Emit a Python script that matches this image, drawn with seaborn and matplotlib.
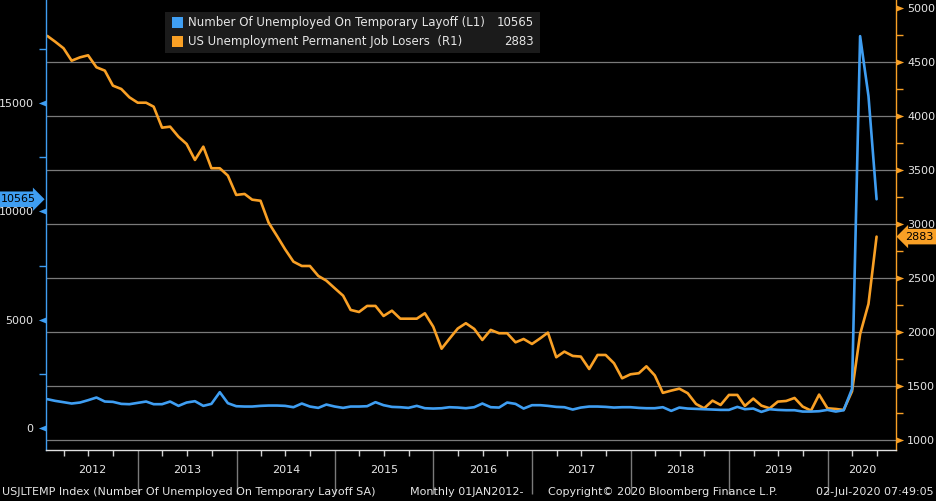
import matplotlib
matplotlib.use("Agg")
import matplotlib.pyplot as plt
import matplotlib.dates as mdates
from matplotlib.path import Path
from matplotlib.patches import Rectangle
from matplotlib.ticker import MultipleLocator, NullFormatter
import numpy as np
import pandas as pd
import seaborn as sns

# Data (thousands, monthly, Jan 2012 - Jun 2020)
months = pd.date_range("2012-01-31", periods=102, freq="ME")

temp_layoff = [
    1328, 1250, 1189, 1127, 1173, 1281, 1405, 1219, 1204, 1111, 1096, 1158,
    1219, 1096, 1096, 1219, 1019, 1173, 1235, 1019, 1111, 1651, 1142, 1003,
    988, 988, 1019, 1034, 1034, 1019, 957, 1127, 988, 926, 1080, 988,
    926, 988, 988, 1003, 1189, 1050, 972, 957, 926, 1019, 910, 895,
    910, 957, 941, 910, 957, 1127, 957, 941, 1173, 1111, 895, 1050,
    1050, 1019, 972, 957, 849, 941, 988, 988, 972, 941, 957, 957,
    926, 910, 910, 957, 787, 941, 895, 880, 864, 849, 833, 833,
    972, 864, 895, 741, 864, 833, 818, 818, 756, 756, 772, 833,
    756, 818, 1800, 18100, 15330, 10565,
]

perm_losers = [
    4741, 4688, 4627, 4512, 4543, 4562, 4451, 4420, 4281, 4250, 4173, 4123,
    4123, 4086, 3892, 3901, 3808, 3741, 3593, 3716, 3516, 3516, 3448, 3269,
    3278, 3225, 3215, 3012, 2889, 2766, 2651, 2611, 2611, 2519, 2475, 2405,
    2336, 2204, 2185, 2241, 2241, 2148, 2197, 2123, 2123, 2123, 2173, 2049,
    1845, 1937, 2032, 2081, 2028, 1926, 2019, 1988, 1988, 1904, 1935, 1889,
    1942, 1994, 1766, 1818, 1778, 1772, 1657, 1787, 1787, 1710, 1571, 1608,
    1618, 1682, 1598, 1436, 1457, 1475, 1433, 1333, 1293, 1364, 1324, 1417,
    1417, 1315, 1383, 1318, 1293, 1355, 1361, 1389, 1309, 1272, 1420, 1293,
    1287, 1278, 1450, 1980, 2260, 2883,
]

years = list(range(2012, 2021))
left_ticks = [0, 5000, 10000, 15000]
right_ticks = [1000, 1500, 2000, 2500, 3000, 3500, 4000, 4500, 5000]
grid_levels = [1000, 1500, 2000, 2500, 3000, 3500, 4000, 4500]

label_temp = "Number Of Unemployed On Temporary Layoff (L1)"
label_perm = "US Unemployment Permanent Job Losers  (R1)"

BLUE = "#3f9ef2"
ORANGE = "#f9a025"
TXT = "#e6e6e6"
GRID = "#7a7a7a"

sns.set_style("dark")
plt.rcParams["font.family"] = ["DejaVu Sans"]

fig = plt.figure(figsize=(9.36, 5.01), dpi=100, facecolor="black")
ax = fig.add_axes([46 / 936, 51 / 501, 850 / 936, 450 / 501])
ax2 = ax.twinx()
ax.set_zorder(2)
ax2.set_zorder(1)
ax.patch.set_visible(False)
ax2.set_facecolor("black")

for v in grid_levels:
    ax2.axhline(v, color=GRID, lw=0.9, zorder=0.5)

sns.lineplot(x=months, y=perm_losers, ax=ax2, color=ORANGE, linewidth=1.9)
sns.lineplot(x=months, y=temp_layoff, ax=ax, color=BLUE, linewidth=1.9)

start, end = pd.Timestamp("2012-01-26"), pd.Timestamp("2020-09-10")
ax.set_xlim(start, end)
ax.set_ylim(-1020, 19770)
ax2.set_ylim(907, 5074)
ax.set_xlabel("")
ax.set_ylabel("")
ax2.set_ylabel("")
ax.grid(False)
ax2.grid(False)

# spines
for s in ["top", "right"]:
    ax.spines[s].set_visible(False)
for s in ["top", "left", "bottom"]:
    ax2.spines[s].set_visible(False)
ax.spines["left"].set_color(BLUE)
ax.spines["bottom"].set_color("#e0e0e0")
ax2.spines["right"].set_color(ORANGE)
for sp in [ax.spines["left"], ax.spines["bottom"], ax2.spines["right"]]:
    sp.set_visible(True)
    sp.set_linewidth(1.0)

# y ticks
ax.yaxis.set_major_locator(MultipleLocator(5000))
ax.yaxis.set_minor_locator(MultipleLocator(2500))
ax.tick_params(axis="y", which="major", length=0, pad=9, labelcolor=TXT, labelsize=8)
ax.tick_params(axis="y", which="minor", length=5, width=1, color=BLUE, left=True)
ax2.yaxis.set_major_locator(MultipleLocator(500))
ax2.yaxis.set_minor_locator(MultipleLocator(250))
ax2.tick_params(axis="y", which="major", length=0, pad=8, labelcolor=TXT, labelsize=8)
ax2.tick_params(axis="y", which="minor", length=5, width=1, color=ORANGE, right=True)

left_tri = Path([(0, -0.4), (0, 0.4), (-1.0, 0), (0, -0.4)],
                [Path.MOVETO, Path.LINETO, Path.LINETO, Path.CLOSEPOLY])
right_tri = Path([(0, -0.4), (0, 0.4), (1.0, 0), (0, -0.4)],
                 [Path.MOVETO, Path.LINETO, Path.LINETO, Path.CLOSEPOLY])
ax.plot(np.zeros(len(left_ticks)), left_ticks, transform=ax.get_yaxis_transform(),
        ls="none", marker=left_tri, ms=11, color=BLUE, mec="none", clip_on=False)
ax2.plot(np.ones(len(right_ticks)), right_ticks, transform=ax2.get_yaxis_transform(),
         ls="none", marker=right_tri, ms=11, color=ORANGE, mec="none", clip_on=False)

# x ticks
ax.xaxis.set_major_locator(mdates.YearLocator())
ax.xaxis.set_minor_locator(mdates.MonthLocator(bymonth=[4, 7, 10]))
ax.xaxis.set_major_formatter(NullFormatter())
ax.xaxis.set_minor_formatter(NullFormatter())
ax.tick_params(axis="x", which="major", length=32, width=1, color=GRID, bottom=True)
ax.tick_params(axis="x", which="minor", length=4, width=1, color="#cfcfcf", bottom=True)

x0, x1 = mdates.date2num(start), mdates.date2num(end)
for yr in years:
    a = max(mdates.date2num(pd.Timestamp(f"{yr}-01-01")), x0)
    b = min(mdates.date2num(pd.Timestamp(f"{yr + 1}-01-01")), x1)
    ax.text((a + b) / 2, -0.044, str(yr), transform=ax.get_xaxis_transform(),
            ha="center", va="center", color=TXT, fontsize=8)

# last value tags
ax.annotate(f"{temp_layoff[-1]}", xy=(0, temp_layoff[-1]), xycoords=ax.get_yaxis_transform(),
            xytext=(-10, 0), textcoords="offset pixels", ha="right", va="center",
            fontsize=8, color="black", annotation_clip=False,
            bbox=dict(boxstyle="rarrow,pad=0.25", fc=BLUE, ec="none"))
ax2.annotate(f"{perm_losers[-1]}", xy=(1, perm_losers[-1]), xycoords=ax2.get_yaxis_transform(),
             xytext=(9, 0), textcoords="offset pixels", ha="left", va="center",
             fontsize=8, color="black", annotation_clip=False,
             bbox=dict(boxstyle="larrow,pad=0.25", fc=ORANGE, ec="none"))

# legend box
W, H = 936, 501
fig.patches.append(Rectangle((165 / W, 1 - 53 / H), 375 / W, 41 / H,
                             transform=fig.transFigure, fc="#1b1b1b", ec="none", zorder=5))
for row, (col, lab, val) in enumerate([(BLUE, label_temp, temp_layoff[-1]),
                                       (ORANGE, label_perm, perm_losers[-1])]):
    yc = 22.5 + row * 19
    fig.patches.append(Rectangle((172 / W, 1 - (yc + 5.5) / H), 11 / W, 11 / H,
                                 transform=fig.transFigure, fc=col, ec="none", zorder=6))
    fig.text(188 / W, 1 - yc / H, lab, color=TXT, fontsize=8.5, ha="left", va="center", zorder=7)
    fig.text(534 / W, 1 - yc / H, f"{val}", color=TXT, fontsize=8.5, ha="right", va="center", zorder=7)

# footer
fy = 1 - 492 / H
fig.text(2 / W, fy, "USJLTEMP Index (Number Of Unemployed On Temporary Layoff SA)",
         color=TXT, fontsize=8, ha="left", va="center")
fig.text(410 / W, fy, "Monthly 01JAN2012-", color=TXT, fontsize=8, ha="left", va="center")
fig.text(548 / W, fy, "Copyright\u00a9 2020 Bloomberg Finance L.P.", color=TXT, fontsize=8,
         ha="left", va="center")
fig.text(934 / W, fy, "02-Jul-2020 07:49:05", color=TXT, fontsize=8, ha="right", va="center")

fig.savefig("out.png", dpi=100, facecolor="black")
